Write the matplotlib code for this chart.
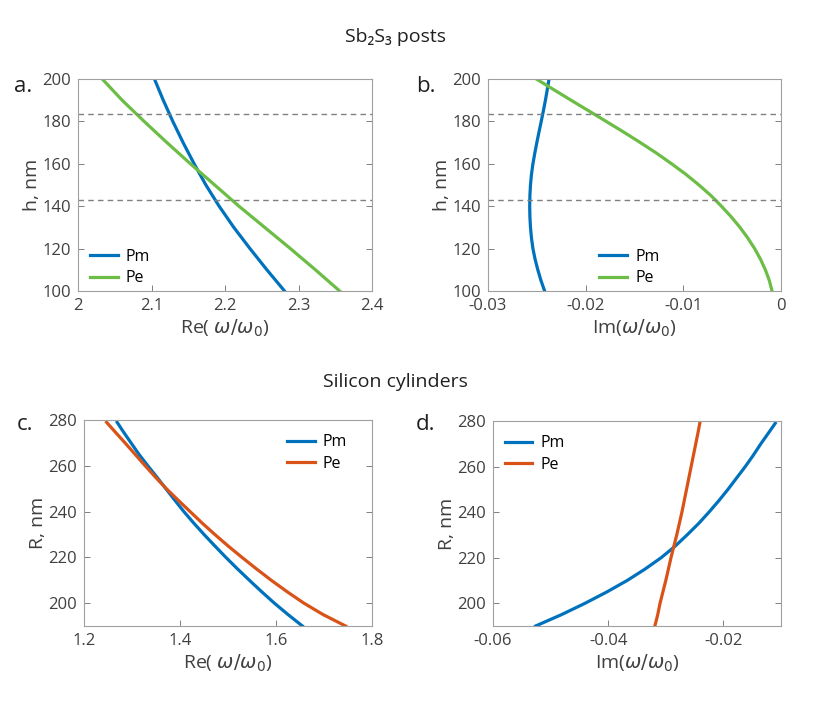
import matplotlib

matplotlib.use("Agg")
import matplotlib.pyplot as plt

plt.rcParams["font.family"] = ["Open Sans", "DejaVu Sans"]
plt.rcParams["mathtext.fontset"] = "dejavusans"

BLUE = "#0072BD"
GREEN = "#6CBD45"
ORANGE = "#D95319"
TXT = "#404040"

# ----- Sb2S3 posts: height h (nm) vs complex frequency -----
h_nm = [200, 195, 190, 185, 180, 175, 170, 165, 160, 155, 150,
        145, 140, 135, 130, 125, 120, 115, 110, 105, 100]
re_pm_a = [2.104, 2.110, 2.116, 2.1225, 2.129, 2.136, 2.143, 2.1505, 2.158, 2.166,
           2.174, 2.183, 2.192, 2.202, 2.212, 2.223, 2.234, 2.2455, 2.257, 2.269,
           2.281]
re_pe_a = [2.033, 2.0465, 2.060, 2.075, 2.090, 2.1055, 2.121, 2.137, 2.153, 2.1695,
           2.186, 2.2025, 2.219, 2.2365, 2.254, 2.2715, 2.289, 2.306, 2.323, 2.3395,
           2.356]
im_pm_b = [-0.02375, -0.02393, -0.02412, -0.02433, -0.02455, -0.02478, -0.02500,
           -0.02521, -0.02540, -0.02555, -0.02565, -0.02571, -0.02573, -0.02571,
           -0.02565, -0.02555, -0.02540, -0.02518, -0.02490, -0.02458, -0.02420]
im_pe_b = [-0.02505, -0.02328, -0.0215, -0.0197, -0.0179, -0.01612, -0.0144,
           -0.01274, -0.0112, -0.00973, -0.0084, -0.00717, -0.0061, -0.0051,
           -0.0042, -0.0034, -0.0027, -0.0021, -0.0016, -0.0012, -0.00092]
h_marks = [183.6, 142.7]

# ----- Silicon cylinders: radius R (nm) vs complex frequency -----
r_nm = [279, 275, 270, 265, 260, 255, 250, 245, 240, 235, 230, 225, 220, 215, 210,
        205, 200, 195, 190]
re_pm_c = [1.269, 1.2815, 1.298, 1.3145, 1.333, 1.352, 1.3705, 1.389, 1.408, 1.4285,
           1.450, 1.4725, 1.4955, 1.5195, 1.5445, 1.570, 1.5965, 1.625, 1.655]
re_pe_c = [1.247, 1.264, 1.2855, 1.3065, 1.3275, 1.349, 1.3715, 1.396, 1.421, 1.446,
           1.4725, 1.500, 1.529, 1.559, 1.590, 1.623, 1.658, 1.698, 1.745]
im_pm_d = [-0.0110, -0.0121, -0.0135, -0.0148, -0.0162, -0.0177, -0.0192, -0.0208,
           -0.0225, -0.0243, -0.0263, -0.0284, -0.0308, -0.0336, -0.0367, -0.0402,
           -0.0440, -0.0481, -0.0526]
im_pe_d = [-0.0241, -0.0244, -0.0248, -0.0252, -0.0256, -0.0260, -0.0264, -0.0268,
           -0.0272, -0.02765, -0.0281, -0.0286, -0.0291, -0.02955, -0.0300, -0.0305,
           -0.0310, -0.0314, -0.0319]


def style(ax):
    for s in ax.spines.values():
        s.set_color("#a0a0a0")
        s.set_linewidth(0.8)
    ax.tick_params(direction="in", length=4, width=0.7, color="#808080",
                   labelsize=12, labelcolor=TXT, top=False, right=True, pad=5)


fig = plt.figure(figsize=(8.3, 7.06), dpi=100)
W, H = 830, 706


def add_ax(x0, x1, y0, y1):
    return fig.add_axes([x0 / W, 1 - y1 / H, (x1 - x0) / W, (y1 - y0) / H])


ax_a = add_ax(78, 372, 79, 291)
ax_b = add_ax(488, 781, 79, 291)
ax_c = add_ax(84, 372, 420, 626)
ax_d = add_ax(493, 781, 421, 626)

lw = 2.3
leg_kw = dict(frameon=False, fontsize=11.5, handlelength=1.75, handletextpad=0.5,
              labelspacing=0.35, borderaxespad=0.0, borderpad=0.0)

# a
ax_a.plot(re_pm_a, h_nm, color=BLUE, lw=lw, label="Pm")
ax_a.plot(re_pe_a, h_nm, color=GREEN, lw=lw, label="Pe")
for y in h_marks:
    ax_a.axhline(y, color="#808080", lw=1.0, ls=(0, (4, 3)))
ax_a.set_xlim(2, 2.4)
ax_a.set_ylim(100, 200)
ax_a.set_xticks([2, 2.1, 2.2, 2.3, 2.4])
ax_a.set_xticklabels(["2", "2.1", "2.2", "2.3", "2.4"])
ax_a.set_yticks([100, 120, 140, 160, 180, 200])
ax_a.set_xlabel(r"Re( $\omega/\omega_0$)", fontsize=14, color=TXT, labelpad=3)
ax_a.set_ylabel("h, nm", fontsize=14, color=TXT, labelpad=1)
ax_a.legend(loc="upper left", bbox_to_anchor=(0.04, 0.20), **leg_kw)

# b
ax_b.plot(im_pm_b, h_nm, color=BLUE, lw=lw, label="Pm")
ax_b.plot(im_pe_b, h_nm, color=GREEN, lw=lw, label="Pe")
for y in h_marks:
    ax_b.axhline(y, color="#808080", lw=1.0, ls=(0, (4, 3)))
ax_b.set_xlim(-0.03, 0)
ax_b.set_ylim(100, 200)
ax_b.set_xticks([-0.03, -0.02, -0.01, 0])
ax_b.set_xticklabels(["-0.03", "-0.02", "-0.01", "0"])
ax_b.set_yticks([100, 120, 140, 160, 180, 200])
ax_b.set_xlabel(r"Im($\omega/\omega_0$)", fontsize=14, color=TXT, labelpad=3)
ax_b.set_ylabel("h, nm", fontsize=14, color=TXT, labelpad=1)
ax_b.legend(loc="upper left", bbox_to_anchor=(0.38, 0.20), **leg_kw)

# c
ax_c.plot(re_pm_c, r_nm, color=BLUE, lw=lw, label="Pm")
ax_c.plot(re_pe_c, r_nm, color=ORANGE, lw=lw, label="Pe")
ax_c.set_xlim(1.2, 1.8)
ax_c.set_ylim(190, 280)
ax_c.set_xticks([1.2, 1.4, 1.6, 1.8])
ax_c.set_yticks([200, 220, 240, 260, 280])
ax_c.set_xlabel(r"Re( $\omega/\omega_0$)", fontsize=14, color=TXT, labelpad=3)
ax_c.set_ylabel("R, nm", fontsize=14, color=TXT, labelpad=1)
ax_c.legend(loc="upper left", bbox_to_anchor=(0.705, 0.93), **leg_kw)

# d
ax_d.plot(im_pm_d, r_nm, color=BLUE, lw=lw, label="Pm")
ax_d.plot(im_pe_d, r_nm, color=ORANGE, lw=lw, label="Pe")
ax_d.set_xlim(-0.06, -0.01)
ax_d.set_ylim(190, 280)
ax_d.set_xticks([-0.06, -0.04, -0.02])
ax_d.set_xticklabels(["-0.06", "-0.04", "-0.02"])
ax_d.set_yticks([200, 220, 240, 260, 280])
ax_d.set_xlabel(r"Im($\omega/\omega_0$)", fontsize=14, color=TXT, labelpad=3)
ax_d.set_ylabel("R, nm", fontsize=14, color=TXT, labelpad=1)
ax_d.legend(loc="upper left", bbox_to_anchor=(0.04, 0.93), **leg_kw)

for ax in (ax_a, ax_b, ax_c, ax_d):
    style(ax)

# titles and panel letters
fig.text(395 / W, 1 - 37 / H, "Sb₂S₃ posts", ha="center", va="center",
         fontsize=14, color="#202020")
fig.text(395 / W, 1 - 382 / H, "Silicon cylinders", ha="center", va="center",
         fontsize=14, color="#202020")
for x, y, s in [(14, 86, "a."), (416, 86, "b."), (17, 425, "c."), (416, 425, "d.")]:
    fig.text(x / W, 1 - y / H, s, ha="left", va="center", fontsize=16,
             color="#202020")

fig.savefig("out.png", dpi=100)
